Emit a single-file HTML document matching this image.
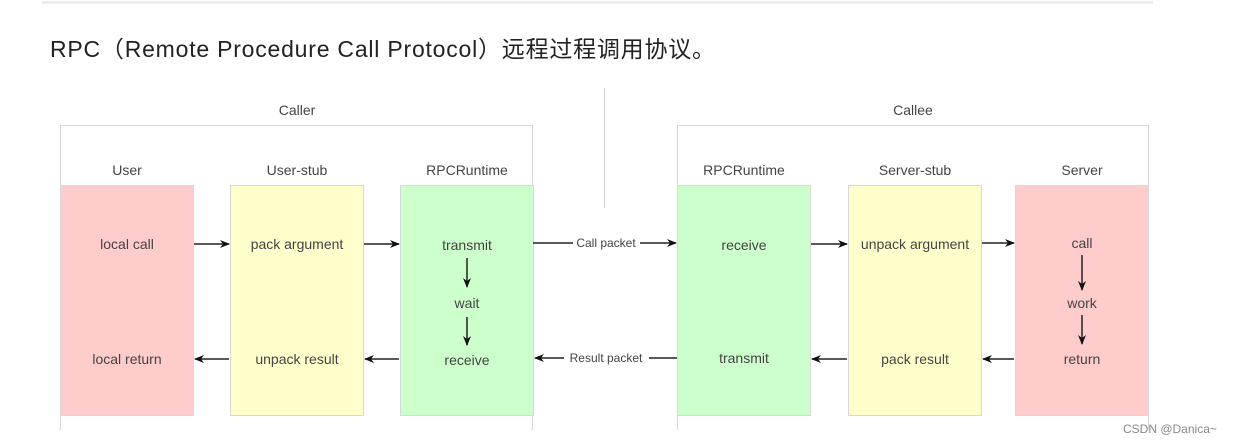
<!DOCTYPE html>
<html><head><meta charset="utf-8"><style>
html,body{margin:0;padding:0;background:#fff;width:1233px;height:444px;overflow:hidden}
svg{display:block}
.t{font-family:"Liberation Sans",Arial,sans-serif;font-size:14px;fill:#444;text-anchor:middle}
.s{font-family:"Liberation Sans",Arial,sans-serif;font-size:12px;fill:#444;text-anchor:middle}
</style></head><body>
<svg width="1233" height="444" viewBox="0 0 1233 444">
<defs><marker id="a" markerWidth="10" markerHeight="10" refX="9" refY="5" orient="auto" markerUnits="userSpaceOnUse"><path d="M0,1 L10,5 L0,9 L3,5 z" fill="#111"/></marker></defs>
<line x1="42" y1="2.5" x2="1153" y2="2.5" stroke="#e6e6e6" stroke-width="2"/>
<text x="50" y="57" font-family="Liberation Sans,'Noto Sans CJK SC',sans-serif" font-size="23" fill="#222" textLength="665" lengthAdjust="spacing">RPC（Remote Procedure Call Protocol）远程过程调用协议。</text>
<line x1="604.5" y1="88" x2="604.5" y2="208" stroke="#ccc"/>
<text class="t" x="297" y="115">Caller</text>
<text class="t" x="913" y="115">Callee</text>
<path d="M60.5,430 V125.5 H532.5 V430" fill="none" stroke="#d6d6d6"/>
<path d="M677.5,430 V125.5 H1148.5 V430" fill="none" stroke="#d6d6d6"/>
<g stroke="#d8d8d8">
<rect x="60.5" y="185.5" width="133" height="230" fill="#ffcccc"/>
<rect x="230.5" y="185.5" width="133" height="230" fill="#ffffcc"/>
<rect x="400.5" y="185.5" width="133" height="230" fill="#ccffcc"/>
<rect x="677.5" y="185.5" width="133" height="230" fill="#ccffcc"/>
<rect x="848.5" y="185.5" width="133" height="230" fill="#ffffcc"/>
<rect x="1015.5" y="185.5" width="133" height="230" fill="#ffcccc"/>
</g>
<g class="t">
<text class="t" x="127" y="175">User</text>
<text class="t" x="297" y="175">User-stub</text>
<text class="t" x="467" y="175">RPCRuntime</text>
<text class="t" x="744" y="175">RPCRuntime</text>
<text class="t" x="915" y="175">Server-stub</text>
<text class="t" x="1082" y="175">Server</text>
<text class="t" x="127" y="249">local call</text>
<text class="t" x="127" y="364">local return</text>
<text class="t" x="297" y="249">pack argument</text>
<text class="t" x="297" y="364">unpack result</text>
<text class="t" x="467" y="250">transmit</text>
<text class="t" x="467" y="308">wait</text>
<text class="t" x="467" y="365">receive</text>
<text class="t" x="744" y="250">receive</text>
<text class="t" x="744" y="363">transmit</text>
<text class="t" x="915" y="249">unpack argument</text>
<text class="t" x="915" y="364">pack result</text>
<text class="t" x="1082" y="248">call</text>
<text class="t" x="1082" y="308">work</text>
<text class="t" x="1082" y="364">return</text>
</g>
<g stroke="#222" stroke-width="1.5" marker-end="url(#a)">
<line x1="194" y1="244" x2="229" y2="244"/>
<line x1="364" y1="244" x2="399" y2="244"/>
<line x1="229" y1="359" x2="195" y2="359"/>
<line x1="399" y1="359" x2="365" y2="359"/>
<line x1="811" y1="244" x2="847" y2="244"/>
<line x1="982" y1="243" x2="1014" y2="243"/>
<line x1="847" y1="359" x2="812" y2="359"/>
<line x1="1014" y1="359" x2="983" y2="359"/>
<line x1="467" y1="258" x2="467" y2="287"/>
<line x1="467" y1="317" x2="467" y2="345"/>
<line x1="1082" y1="255" x2="1082" y2="290"/>
<line x1="1082" y1="315" x2="1082" y2="344"/>
<line x1="640" y1="243" x2="676" y2="243"/>
<line x1="564" y1="358" x2="535" y2="358"/>
</g>
<g stroke="#222" stroke-width="1.5">
<line x1="533" y1="243" x2="573" y2="243"/>
<line x1="649" y1="358" x2="677" y2="358"/>
</g>
<text class="s" x="606" y="247">Call packet</text>
<text class="s" x="606" y="362">Result packet</text>
<text x="1123" y="433" font-family="Liberation Sans,Arial,sans-serif" font-size="12" fill="#888">CSDN @Danica~</text>
</svg>
</body></html>
